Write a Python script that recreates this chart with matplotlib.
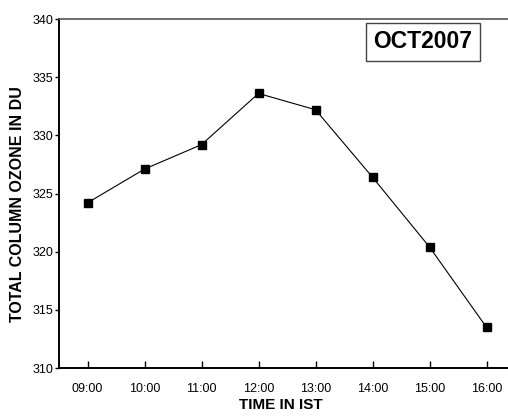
import matplotlib
matplotlib.use("Agg")
import matplotlib.pyplot as plt

# data
times = ["09:00", "10:00", "11:00", "12:00", "13:00", "14:00", "15:00", "16:00"]
ozone = [324.2, 327.1, 329.2, 333.6, 332.2, 326.4, 320.4, 313.5]
yticks = [310, 315, 320, 325, 330, 335, 340]

plt.rcParams["font.family"] = ["Liberation Sans", "DejaVu Sans"]

fig = plt.figure(figsize=(5.08, 4.17), dpi=100)
ax = fig.add_axes([59 / 508, 49 / 417, 456 / 508, 349 / 417])

xs = list(range(len(times)))
ax.plot(xs, ozone, color="black", linewidth=0.8, marker="s",
        markersize=6, markerfacecolor="black", markeredgecolor="black")

ax.set_xlim(-0.5, len(times) - 0.5)
ax.set_ylim(310, 340)
ax.set_xticks(xs)
ax.set_xticklabels(times)
ax.set_yticks(yticks)

ax.tick_params(axis="x", direction="in", length=5, width=1.0, pad=11, labelsize=9)
ax.tick_params(axis="y", direction="out", length=3, width=1.0, pad=1, labelsize=9)

ax.spines["right"].set_visible(False)
ax.spines["left"].set_linewidth(1.4)
ax.spines["bottom"].set_linewidth(1.4)
ax.spines["top"].set_linewidth(1.2)
ax.spines["top"].set_color("#555555")

ax.set_xlabel("TIME IN IST", fontsize=11, fontweight="bold")
ax.xaxis.set_label_coords((281 - 59) / 456, -0.085)
ax.set_ylabel("TOTAL COLUMN OZONE IN DU", fontsize=11.5, fontweight="bold")
ax.yaxis.set_label_coords(-0.074, 0.47)

fig.text(423 / 508, 1 - 42 / 417, "OCT2007", ha="center", va="center",
         fontsize=16.5, fontweight="bold",
         bbox=dict(boxstyle="square,pad=0.32", facecolor="white",
                   edgecolor="#444444", linewidth=1.0))

fig.savefig("out.png", dpi=100)
